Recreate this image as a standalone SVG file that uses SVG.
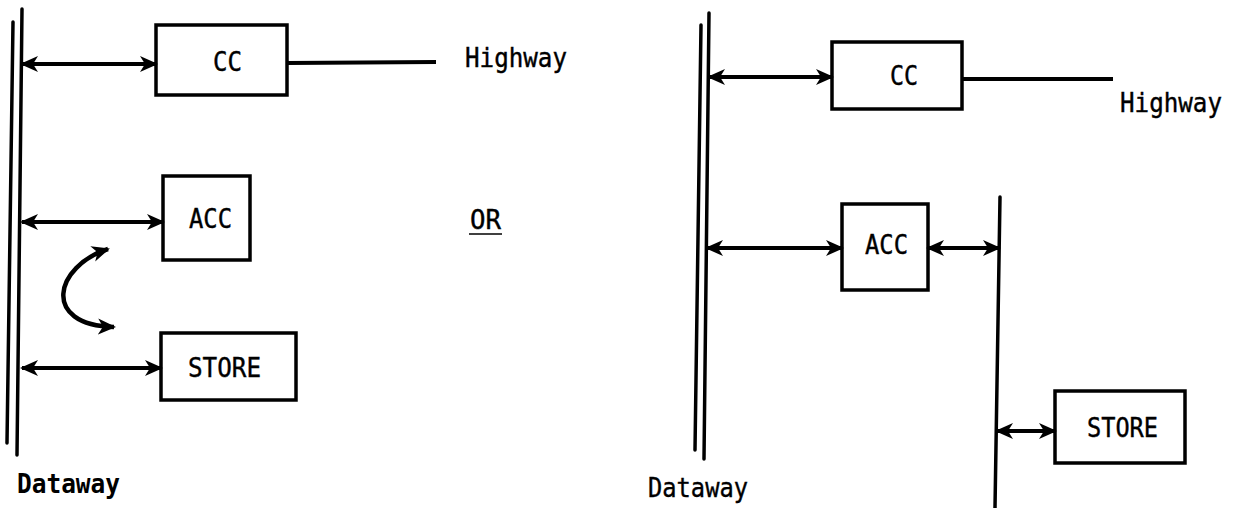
<svg xmlns="http://www.w3.org/2000/svg" width="1239" height="508" viewBox="0 0 1239 508">
<style>
.box{fill:#fff;stroke:#000;stroke-width:3.5}
.bus{fill:none;stroke:#000;stroke-width:3.5;stroke-linecap:round}
.wire{fill:none;stroke:#000;stroke-width:4}
.arr{fill:none;stroke:#000;stroke-width:4;marker-start:url(#ah);marker-end:url(#ah)}
.curve{stroke-width:4.5}
.t{font-family:"DejaVu Sans Mono","Liberation Mono",monospace;font-size:26px;fill:#000;stroke:#000;stroke-width:0.4}
.b{font-weight:bold;stroke-width:0}
</style>
<defs>
<marker id="ah" markerUnits="userSpaceOnUse" markerWidth="18" markerHeight="17" refX="16" refY="8.5" orient="auto-start-reverse">
<path d="M0,0.5 L18,8.5 L0,16.5 L5,8.5 z" fill="#000"/>
</marker>
</defs>
<rect width="1239" height="508" fill="#fff"/>

<g id="left-dataway">
<path class="bus" d="M13,22 L7,443"/>
<path class="bus" d="M22,9 L17,455"/>
<text class="t b" x="17" y="493" textLength="103" lengthAdjust="spacingAndGlyphs">Dataway</text>
</g>
<g id="left-cc">
<rect class="box" x="156" y="25" width="131" height="70"/>
<text class="t" x="213" y="71" textLength="29" lengthAdjust="spacingAndGlyphs">CC</text>
</g>
<g id="left-acc">
<rect class="box" x="163" y="176" width="87" height="84"/>
<text class="t" x="189" y="228" textLength="43" lengthAdjust="spacingAndGlyphs">ACC</text>
</g>
<g id="left-store">
<rect class="box" x="161" y="333" width="135" height="67"/>
<text class="t" x="188" y="377" textLength="73" lengthAdjust="spacingAndGlyphs">STORE</text>
</g>
<g id="left-highway">
<text class="t" x="465" y="67" textLength="102" lengthAdjust="spacingAndGlyphs">Highway</text>
</g>
<g id="or-label">
<text class="t" x="470" y="229" textLength="31" lengthAdjust="spacingAndGlyphs">OR</text>
<line x1="469" y1="234" x2="502" y2="234" stroke="#000" stroke-width="1.5"/>
</g>

<g id="right-dataway">
<path class="bus" d="M701,25 L695,450"/>
<path class="bus" d="M709,13 L704,459"/>
<text class="t" x="648" y="497" textLength="100" lengthAdjust="spacingAndGlyphs">Dataway</text>
</g>
<g id="right-cc">
<rect class="box" x="832" y="42" width="130" height="67"/>
<text class="t" x="890" y="85" textLength="28" lengthAdjust="spacingAndGlyphs">CC</text>
</g>
<g id="right-acc">
<rect class="box" x="842" y="204" width="86" height="86"/>
<text class="t" x="865" y="254" textLength="43" lengthAdjust="spacingAndGlyphs">ACC</text>
</g>
<g id="right-store">
<rect class="box" x="1055" y="391" width="130" height="72"/>
<text class="t" x="1087" y="437" textLength="71" lengthAdjust="spacingAndGlyphs">STORE</text>
</g>
<g id="right-bus">
<path class="bus" d="M1000,197 L995,508"/>
</g>
<g id="right-highway">
<text class="t" x="1120" y="112" textLength="102" lengthAdjust="spacingAndGlyphs">Highway</text>
</g>

<g id="connectors">
<path class="arr" d="M22,64 L156,64"/>
<path class="wire" d="M287,63 L436,62"/>
<path class="arr" d="M22,222 L163,222"/>
<path class="arr" d="M22,368 L161,368"/>
<path class="arr curve" d="M108,249 C55,266 40,325 114,327"/>
<path class="arr" d="M709,77 L832,77"/>
<path class="wire" d="M962,79 L1113,79"/>
<path class="arr" d="M707,248 L842,248"/>
<path class="arr" d="M928,248 L999,248"/>
<path class="arr" d="M997,431 L1055,431"/>
</g>
</svg>
